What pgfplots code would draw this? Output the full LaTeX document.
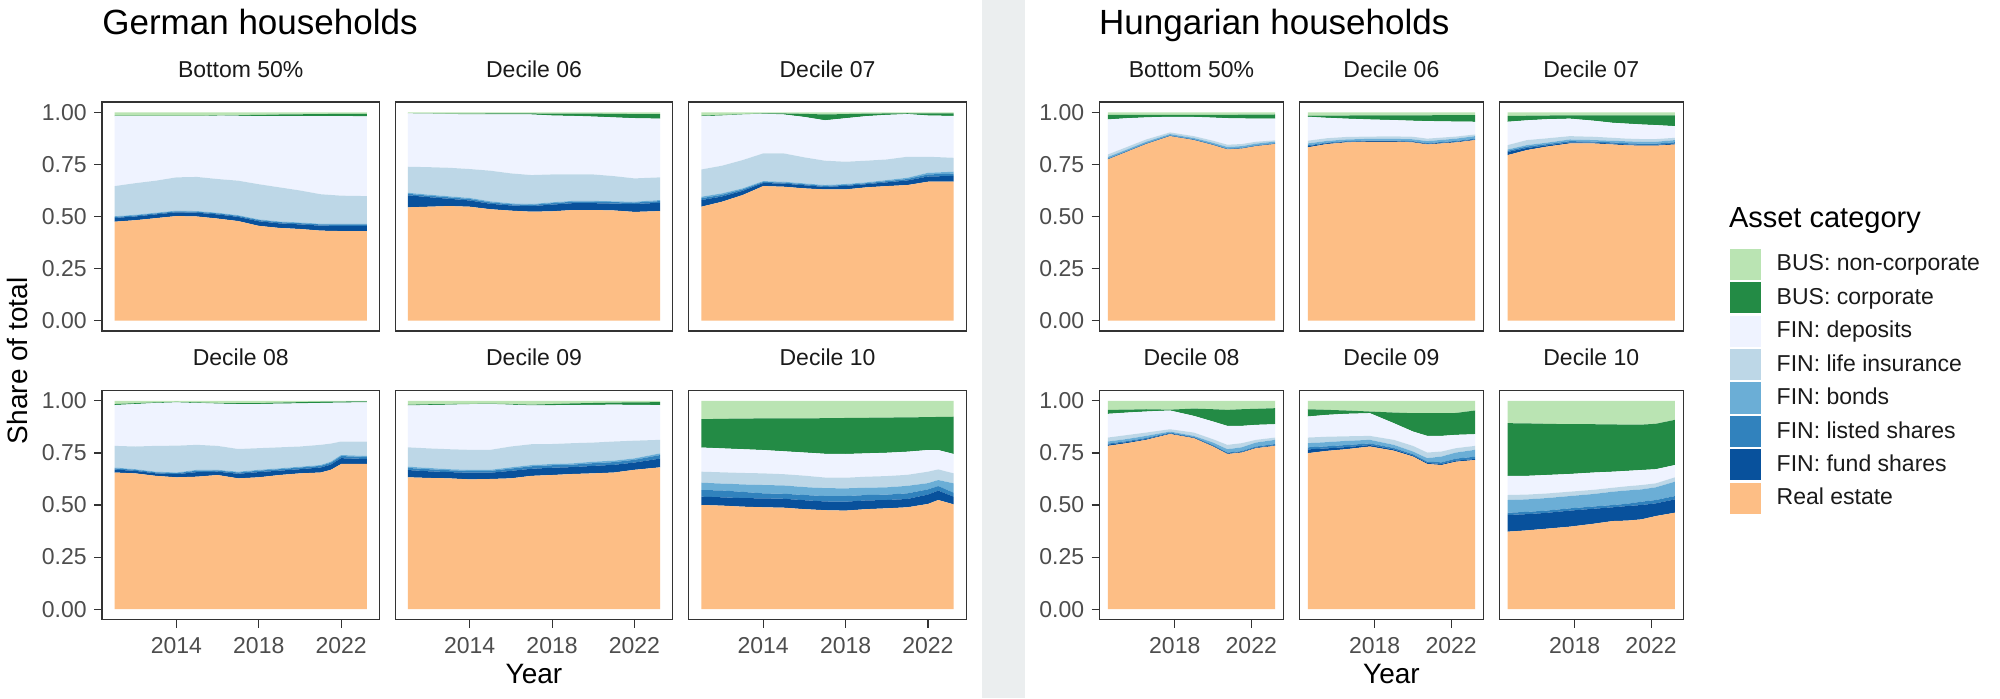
\documentclass[border=0pt]{standalone}
\usepackage{fontspec}
\setmainfont{Liberation Sans}
\usepackage{pgfplots}
\usepackage{pgfplotstable}
\pgfplotsset{compat=1.18}
\definecolor{cNC}{HTML}{BAE4B3}
\definecolor{cCO}{HTML}{238B45}
\definecolor{cDE}{HTML}{EFF3FF}
\definecolor{cLI}{HTML}{BDD7E7}
\definecolor{cBO}{HTML}{6BAED6}
\definecolor{cLS}{HTML}{3182BD}
\definecolor{cFS}{HTML}{08519C}
\definecolor{cRE}{HTML}{FDBE85}
\definecolor{sepc}{HTML}{EBEEEF}
\definecolor{tickc}{HTML}{4D4D4D}
\definecolor{framec}{HTML}{333333}
\definecolor{stripc}{HTML}{1A1A1A}

% German households
\pgfplotstableread{
year re fund lst bnd life dep corp nc
2011 .475 .018 .005 .003 .145 .336 .003 .015
2012 .482 .018 .005 .003 .152 .322 .003 .015
2013 .492 .018 .005 .003 .154 .310 .002 .016
2014 .502 .018 .005 .003 .160 .294 .002 .016
2015 .500 .018 .005 .003 .164 .292 .002 .016
2016 .490 .020 .005 .003 .162 .304 .002 .014
2017 .478 .020 .005 .003 .166 .312 .003 .013
2018 .455 .022 .006 .003 .169 .327 .006 .012
2019 .445 .022 .006 .003 .164 .342 .008 .010
2020 .440 .022 .006 .003 .154 .357 .009 .009
2021 .432 .024 .006 .003 .142 .375 .010 .008
2022 .430 .025 .007 .003 .135 .382 .011 .007
2023.25 .430 .025 .007 .003 .133 .383 .012 .007
}\tGa
\pgfplotstableread{
year re fund lst bnd life dep corp nc
2011 .544 .058 .007 .005 .125 .256 .000 .005
2012 .547 .046 .007 .005 .132 .257 .001 .005
2013 .550 .035 .007 .005 .137 .258 .002 .006
2014 .547 .030 .007 .005 .139 .262 .004 .006
2015 .535 .026 .007 .005 .147 .270 .005 .005
2016 .528 .025 .006 .004 .144 .283 .005 .005
2017 .523 .027 .006 .004 .139 .291 .005 .005
2018 .525 .032 .007 .004 .134 .283 .009 .006
2019 .531 .033 .007 .004 .127 .281 .011 .006
2020 .531 .033 .007 .004 .127 .278 .014 .006
2021 .529 .033 .007 .004 .121 .282 .017 .007
2022 .522 .038 .007 .004 .112 .289 .020 .008
2023.25 .526 .040 .008 .005 .109 .282 .022 .008
}\tGb
\pgfplotstableread{
year re fund lst bnd life dep corp nc
2011 .547 .032 .009 .007 .131 .256 .003 .015
2012 .571 .025 .008 .007 .133 .241 .003 .012
2013 .603 .020 .007 .005 .136 .219 .002 .008
2014 .646 .015 .005 .004 .133 .190 .002 .005
2015 .643 .015 .005 .004 .136 .187 .005 .005
2016 .635 .015 .005 .004 .125 .194 .015 .007
2017 .630 .012 .005 .004 .117 .194 .028 .010
2018 .630 .017 .005 .004 .107 .209 .020 .008
2019 .640 .015 .005 .004 .104 .214 .012 .006
2020 .646 .018 .006 .005 .099 .214 .007 .005
2021 .651 .022 .007 .006 .101 .205 .004 .004
2022 .667 .025 .010 .008 .077 .198 .010 .005
2023.25 .667 .028 .011 .009 .067 .201 .012 .005
}\tGc
\pgfplotstableread{
year re fund lst bnd life dep corp nc
2011 .656 .014 .006 .004 .104 .196 .005 .015
2012 .652 .012 .005 .003 .109 .204 .004 .011
2013 .640 .012 .005 .003 .124 .206 .003 .007
2014 .633 .015 .005 .003 .129 .208 .002 .005
2015 .636 .022 .007 .004 .120 .201 .003 .007
2016 .644 .016 .006 .003 .115 .203 .003 .010
2017 .628 .022 .006 .004 .109 .216 .004 .011
2018 .633 .025 .007 .004 .104 .212 .004 .011
2019 .644 .021 .007 .004 .101 .210 .005 .008
2020 .652 .020 .008 .004 .097 .207 .006 .006
2021 .656 .024 .008 .004 .097 .201 .006 .004
2021.5 .669 .025 .009 .005 .087 .196 .006 .003
2022 .697 .028 .010 .005 .065 .187 .005 .003
2023.25 .697 .024 .010 .005 .069 .188 .005 .002
}\tGd
\pgfplotstableread{
year re fund lst bnd life dep corp nc
2011 .633 .035 .010 .006 .093 .201 .004 .018
2012 .630 .032 .010 .006 .094 .208 .004 .016
2013 .628 .030 .009 .005 .096 .214 .003 .015
2014 .623 .032 .009 .005 .096 .219 .002 .014
2015 .625 .030 .009 .005 .096 .220 .002 .013
2016 .628 .036 .011 .006 .100 .201 .003 .015
2017 .640 .034 .012 .006 .100 .186 .004 .018
2018 .644 .035 .012 .006 .096 .186 .006 .015
2019 .649 .033 .012 .006 .097 .183 .008 .012
2020 .652 .036 .013 .007 .092 .181 .009 .010
2021 .656 .037 .013 .007 .092 .177 .010 .008
2022 .669 .035 .013 .007 .085 .172 .012 .007
2023.25 .681 .042 .017 .008 .065 .167 .014 .006
}\tGe
\pgfplotstableread{
year re fund lst bnd life dep corp nc
2011 .500 .040 .032 .035 .053 .116 .136 .088
2012 .497 .040 .033 .033 .054 .115 .142 .086
2013 .492 .041 .030 .036 .055 .114 .147 .085
2014 .489 .043 .024 .040 .056 .112 .152 .084
2015 .487 .043 .024 .040 .054 .110 .158 .084
2016 .480 .043 .025 .038 .055 .111 .164 .084
2017 .475 .042 .026 .038 .051 .114 .171 .083
2018 .473 .043 .027 .037 .051 .114 .173 .082
2019 .480 .042 .026 .035 .053 .112 .171 .081
2020 .484 .040 .026 .035 .054 .112 .169 .080
2021 .489 .040 .027 .036 .053 .111 .165 .079
2022 .505 .045 .025 .030 .055 .104 .158 .078
2022.5 .524 .045 .022 .029 .051 .093 .159 .077
2023.25 .503 .037 .019 .045 .048 .093 .179 .076
}\tGf

% Hungarian households
\pgfplotstableread{
year re fund lst bnd life dep corp nc
2014.5 .774 .002 .002 .008 .012 .168 .022 .012
2015.5 .811 .002 .002 .007 .012 .138 .016 .012
2016.5 .848 .002 .002 .007 .011 .106 .012 .012
2017.75 .886 .002 .002 .006 .008 .075 .009 .012
2019 .867 .002 .002 .006 .009 .092 .010 .012
2020 .843 .002 .002 .007 .010 .111 .013 .012
2020.75 .822 .002 .002 .008 .011 .127 .016 .012
2021.5 .826 .002 .002 .008 .010 .123 .018 .011
2022.25 .838 .002 .002 .008 .009 .111 .019 .011
2023.25 .848 .002 .002 .008 .006 .104 .020 .010
}\tHa
\pgfplotstableread{
year re fund lst bnd life dep corp nc
2014.5 .832 .006 .004 .009 .013 .115 .005 .016
2015.5 .848 .004 .003 .008 .013 .098 .010 .016
2016.5 .856 .003 .003 .008 .012 .088 .015 .015
2017.75 .859 .003 .003 .008 .011 .082 .020 .014
2019 .859 .003 .003 .008 .012 .078 .023 .014
2020 .856 .003 .003 .009 .012 .077 .026 .014
2020.75 .846 .003 .003 .010 .012 .084 .028 .014
2021.5 .851 .003 .004 .010 .011 .078 .030 .013
2022.25 .856 .003 .004 .011 .010 .072 .031 .013
2023.25 .867 .003 .004 .012 .008 .061 .032 .013
}\tHb
\pgfplotstableread{
year re fund lst bnd life dep corp nc
2014.5 .795 .015 .006 .006 .021 .112 .028 .017
2015.5 .819 .010 .007 .007 .024 .095 .022 .016
2016.5 .835 .006 .006 .007 .021 .092 .018 .015
2017.75 .851 .005 .006 .008 .016 .084 .016 .014
2019 .851 .004 .005 .007 .016 .077 .026 .014
2020 .846 .004 .006 .008 .014 .072 .036 .014
2020.75 .842 .004 .006 .009 .013 .072 .040 .014
2021.5 .840 .004 .006 .009 .013 .070 .044 .014
2022.25 .840 .004 .006 .009 .013 .067 .047 .014
2023.25 .846 .004 .007 .010 .011 .056 .052 .014
}\tHc
\pgfplotstableread{
year re fund lst bnd life dep corp nc
2014.5 .784 .006 .005 .010 .019 .114 .019 .043
2015.5 .797 .005 .005 .010 .019 .108 .014 .042
2016.5 .813 .004 .005 .010 .016 .101 .011 .040
2017.75 .841 .003 .004 .005 .011 .090 .004 .042
2019 .821 .003 .003 .005 .016 .080 .035 .037
2020 .781 .003 .004 .012 .016 .085 .059 .040
2020.75 .745 .003 .004 .016 .021 .091 .077 .043
2021.5 .752 .003 .004 .018 .020 .083 .080 .040
2022.25 .773 .003 .005 .019 .013 .072 .077 .038
2023.25 .784 .003 .006 .020 .011 .064 .077 .035
}\tHd
\pgfplotstableread{
year re fund lst bnd life dep corp nc
2014.5 .749 .018 .010 .020 .027 .101 .035 .040
2015.5 .760 .012 .010 .020 .026 .105 .024 .043
2016.5 .768 .010 .010 .020 .022 .108 .016 .046
2017.75 .781 .007 .008 .017 .019 .109 .008 .051
2019 .761 .006 .007 .015 .024 .080 .051 .056
2020 .733 .005 .006 .013 .027 .069 .088 .059
2020.75 .697 .005 .006 .017 .027 .080 .109 .059
2021.5 .692 .005 .008 .028 .024 .075 .109 .059
2022.25 .708 .005 .010 .029 .021 .064 .105 .058
2023.25 .716 .005 .011 .033 .019 .056 .114 .046
}\tHe
\pgfplotstableread{
year re fund lst bnd life dep corp nc
2014.5 .372 .080 .011 .061 .024 .092 .253 .107
2015.5 .378 .078 .011 .060 .023 .090 .252 .108
2016.5 .386 .076 .011 .060 .022 .089 .246 .110
2017.75 .396 .077 .011 .059 .021 .085 .239 .112
2019 .410 .072 .011 .060 .020 .083 .232 .112
2020 .423 .066 .011 .064 .019 .077 .227 .113
2020.75 .425 .070 .011 .064 .020 .074 .222 .114
2021.5 .431 .069 .016 .059 .021 .072 .218 .114
2022.25 .447 .061 .016 .061 .019 .068 .218 .110
2023.25 .463 .064 .016 .069 .021 .059 .217 .091
}\tHf

\newcommand{\areas}[1]{%
\addplot[fill=cRE,draw=none] table[x=year,y=re]{#1}\closedcycle;
\addplot[fill=cFS,draw=none] table[x=year,y=fund]{#1}\closedcycle;
\addplot[fill=cLS,draw=none] table[x=year,y=lst]{#1}\closedcycle;
\addplot[fill=cBO,draw=none] table[x=year,y=bnd]{#1}\closedcycle;
\addplot[fill=cLI,draw=none] table[x=year,y=life]{#1}\closedcycle;
\addplot[fill=cDE,draw=none] table[x=year,y=dep]{#1}\closedcycle;
\addplot[fill=cCO,draw=none] table[x=year,y=corp]{#1}\closedcycle;
\addplot[fill=cNC,draw=none] table[x=year,y=nc]{#1}\closedcycle;
}

\pgfplotsset{
  base/.style={scale only axis, height=114.5pt, ymin=-0.05, ymax=1.05,
    stack plots=y, axis on top, anchor=south west,
    axis line style={draw=framec, line width=0.55pt},
    major tick style={draw=framec, line width=0.55pt},
    major tick length=4pt, tick align=outside, tick pos=left,
    ytick={0,0.25,0.5,0.75,1}, yticklabels={0.00,0.25,0.50,0.75,1.00},
    tick label style={font=\fontsize{11.5}{13}\selectfont, text=tickc},
    yticklabel style={anchor=east, inner sep=0pt, xshift=-3.5pt},
    xticklabel style={anchor=base, inner sep=0pt, yshift=-12.8pt},
    title style={font=\fontsize{11.5}{13}\selectfont, text=stripc,
      at={(0.5,1)}, anchor=base, yshift=6.3pt, inner sep=0pt}},
  de/.style={base, width=138.75pt, xmin=2010.3875, xmax=2023.8625,
    xtick={2014,2018,2022}, xticklabels={2014,2018,2022}},
  hu/.style={base, width=92pt, xmin=2014.0625, xmax=2023.6875,
    xtick={2018,2022}, xticklabels={2018,2022}},
  noy/.style={ytick=\empty},
  nox/.style={xtick=\empty},
}

\begin{document}
\begin{tikzpicture}
\useasboundingbox (0,0) rectangle (1000pt,349pt);
\fill[white] (0,0) rectangle (1000pt,349pt);
\fill[sepc] (491pt,0) rectangle (512.5pt,349pt);

% ---- German, top row
\begin{axis}[de, nox, at={(51pt,183.5pt)}, title={Bottom 50\%}]
\areas{\tGa}
\end{axis}
\begin{axis}[de, nox, noy, at={(197.65pt,183.5pt)}, title={Decile 06}]
\areas{\tGb}
\end{axis}
\begin{axis}[de, nox, noy, at={(344.4pt,183.5pt)}, title={Decile 07}]
\areas{\tGc}
\end{axis}
% ---- German, bottom row
\begin{axis}[de, at={(51pt,39.25pt)}, title={Decile 08}]
\areas{\tGd}
\end{axis}
\begin{axis}[de, noy, at={(197.65pt,39.25pt)}, title={Decile 09}]
\areas{\tGe}
\end{axis}
\begin{axis}[de, noy, at={(344.4pt,39.25pt)}, title={Decile 10}]
\areas{\tGf}
\end{axis}

% ---- Hungarian, top row
\begin{axis}[hu, nox, at={(549.75pt,183.5pt)}, title={Bottom 50\%}]
\areas{\tHa}
\end{axis}
\begin{axis}[hu, nox, noy, at={(649.7pt,183.5pt)}, title={Decile 06}]
\areas{\tHb}
\end{axis}
\begin{axis}[hu, nox, noy, at={(749.65pt,183.5pt)}, title={Decile 07},
  legend cell align=left,
  legend image code/.code={\fill[#1] (0pt,-7.8pt) rectangle (15.6pt,7.8pt);},
  legend style={at={(1.251,0.3594)}, anchor=north west, draw=none, fill=none,
    inner sep=0pt, outer sep=0pt, row sep=1.1pt, column sep=8pt,
    font=\fontsize{11.5}{13}\selectfont, text=stripc,
    nodes={inner sep=0pt, outer sep=0pt}}]
\addlegendimage{fill=cNC,draw=none}\addlegendentry{BUS: non-corporate}
\addlegendimage{fill=cCO,draw=none}\addlegendentry{BUS: corporate}
\addlegendimage{fill=cDE,draw=none}\addlegendentry{FIN: deposits}
\addlegendimage{fill=cLI,draw=none}\addlegendentry{FIN: life insurance}
\addlegendimage{fill=cBO,draw=none}\addlegendentry{FIN: bonds}
\addlegendimage{fill=cLS,draw=none}\addlegendentry{FIN: listed shares}
\addlegendimage{fill=cFS,draw=none}\addlegendentry{FIN: fund shares}
\addlegendimage{fill=cRE,draw=none}\addlegendentry{Real estate}
\areas{\tHc}
\end{axis}
% ---- Hungarian, bottom row
\begin{axis}[hu, at={(549.75pt,39.25pt)}, title={Decile 08}]
\areas{\tHd}
\end{axis}
\begin{axis}[hu, noy, at={(649.7pt,39.25pt)}, title={Decile 09}]
\areas{\tHe}
\end{axis}
\begin{axis}[hu, noy, at={(749.65pt,39.25pt)}, title={Decile 10}]
\areas{\tHf}
\end{axis}

% ---- titles and axis labels
\node[anchor=base west, inner sep=0pt, font=\fontsize{17.5}{20}\selectfont] at (51pt,331.5pt) {German households};
\node[anchor=base west, inner sep=0pt, font=\fontsize{17.5}{20}\selectfont] at (549.4pt,331.5pt) {Hungarian households};
\node[anchor=base, inner sep=0pt, font=\fontsize{14}{16}\selectfont] at (267pt,7.5pt) {Year};
\node[anchor=base, inner sep=0pt, font=\fontsize{14}{16}\selectfont] at (695.7pt,7.5pt) {Year};
\node[anchor=base, rotate=90, inner sep=0pt, font=\fontsize{14}{16}\selectfont] at (13.5pt,168.6pt) {Share of total};
\node[anchor=base west, inner sep=0pt, font=\fontsize{14.5}{17}\selectfont] at (864.3pt,235.2pt) {Asset category};
\end{tikzpicture}
\end{document}
